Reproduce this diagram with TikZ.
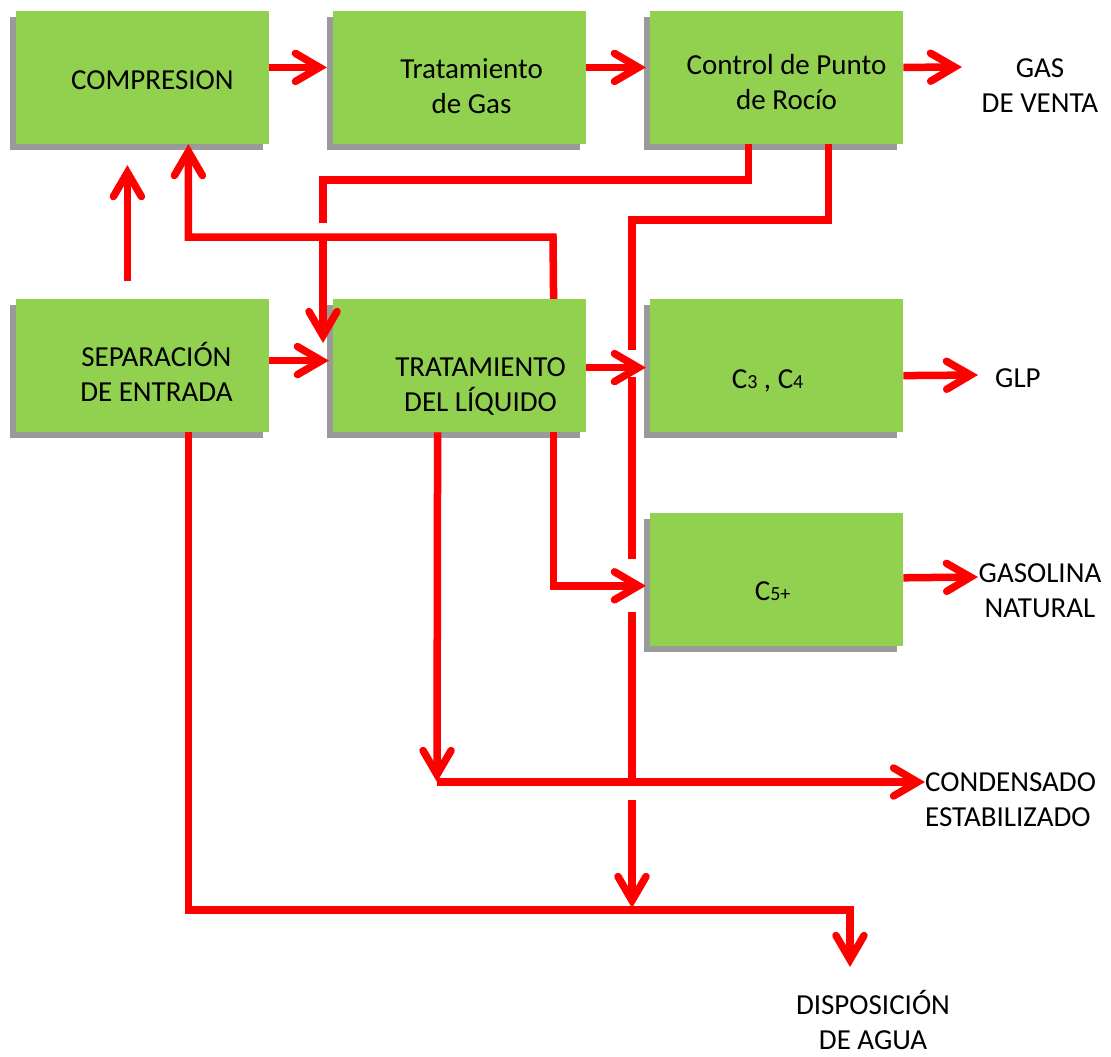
\documentclass[tikz,border=0pt]{standalone}
\usepackage{fontspec}
\setmainfont{Carlito}
\usetikzlibrary{matrix,shadows,arrows.meta}

\definecolor{leaf}{HTML}{92D050}
\definecolor{shade}{HTML}{9A9A9A}
\newcommand{\lowidx}[1]{{\fontsize{20}{20}\selectfont #1}}

\tikzset{
  box/.style={fill=leaf, minimum width=253pt, minimum height=133pt, inner sep=0pt,
    general shadow={fill=shade, shadow xshift=-6pt, shadow yshift=-6pt}},
  boxtext/.style={inner sep=0pt, align=center, font=\fontsize{29}{35}\selectfont},
  tag/.style={inner sep=0pt, align=center, font=\fontsize{29}{35}\selectfont},
  pipe/.style={draw=red, line width=7.5pt},
  flow/.style={pipe, -{Straight Barb[length=24pt,width=28pt,line cap=round,line join=miter]}}
}

\begin{document}
\begin{tikzpicture}[x=1pt,y=-1pt]
  \useasboundingbox (0,0) rectangle (1111,1057);
  \matrix (m) [column sep=64pt, row sep=155pt, inner sep=0pt, anchor=north west] at (15.5,10.5)
  {
    \node[box, label={[boxtext, shift={(10,3)}]center:COMPRESION}] (comp) {}; &
    \node[box, label={[boxtext, shift={(12,9)}]center:Tratamiento\\de Gas}] (tgas) {}; &
    \node[box, label={[boxtext, shift={(10,5)}]center:Control de Punto\\de Rocío}] (rocio) {}; \\
    \node[box, label={[boxtext, shift={(14,6)}]center:SEPARACIÓN\\DE ENTRADA}] (sep) {}; &
    \node[box, label={[boxtext, shift={(21,21)}]center:TRATAMIENTO\\DEL LÍQUIDO}] (tliq) {}; &
    \node[box, label={[boxtext, shift={(-9,15)}]center:C\lowidx{3} , C\lowidx{4}}] (c34) {}; \\[-74pt]
    & & \node[box, label={[boxtext, shift={(-4,11)}]center:C\lowidx{5+}}] (c5) {}; \\
  };

  \node[tag, anchor=north] (gas) at (1040,58) {GAS\\DE VENTA};
  \node[tag, anchor=west] (glp) at (995,378) {GLP};
  \node[tag, anchor=north] (gasolina) at (1040,563) {GASOLINA\\NATURAL};
  \node[tag, anchor=north west, align=left] (cond) at (925,772) {CONDENSADO\\ESTABILIZADO};
  \node[tag, anchor=north] (agua) at (873,990) {DISPOSICIÓN\\DE AGUA};

  \coordinate (gasin) at (962,67);
  \coordinate (glpin) at (978,375);
  \coordinate (gasoin) at (978,577);
  \coordinate (condjoin) at (437,782);
  \coordinate (condin) at (925,782);
  \coordinate (aguain) at (850,967);
  \coordinate (retbend) at (553,237);
  \coordinate (dewbend) at (323,180);
  \coordinate (dewcut1) at (323,223);
  \coordinate (dewcut2) at (323,240);
  \coordinate (dewtip) at (323,343);
  \coordinate (drainbend) at (632,220);
  \coordinate (cut1) at (632,350);
  \coordinate (cut2) at (632,377);
  \coordinate (cut3) at (632,559);
  \coordinate (cut4) at (632,612);
  \coordinate (cut5) at (632,782);
  \coordinate (cut6) at (632,800);
  \coordinate (watertip) at (632,908);
  \coordinate (waterbend) at (850,910);

  \path
    ([yshift=10pt]comp.east)  edge[flow, shorten >=6pt] ([yshift=10pt]tgas.west)
    ([yshift=10pt]tgas.east)  edge[flow, shorten >=4pt] ([yshift=10pt]rocio.west)
    ([yshift=10pt]rocio.east) edge[flow] (gasin)
    ([xshift=-15pt]sep.north) edge[flow, shorten <=18pt, shorten >=21pt] ([xshift=-15pt]comp.south)
    ([yshift=5pt]sep.east)    edge[flow, shorten >=4pt] ([yshift=5pt]tliq.west)
    ([yshift=-2pt]tliq.east)  edge[flow, shorten >=4pt] ([yshift=-2pt]c34.west)
    ([yshift=-10pt]c34.east)  edge[flow] (glpin)
    ([yshift=2pt]c5.east)     edge[flow] (gasoin)
    ([xshift=-22pt]tliq.south) edge[flow] (condjoin)
    (condjoin) edge[flow] (condin);

  \draw[flow] ([xshift=94pt]tliq.north) -- (retbend) -| ([xshift=46pt]comp.south);
  \draw[pipe] ([xshift=-28pt]rocio.south) |- (dewbend) -- (dewcut1);
  \draw[flow] (dewcut2) -- (dewtip);
  \draw[pipe] ([xshift=52pt]rocio.south) |- (drainbend) -- (cut1);
  \draw[pipe] (cut2) -- (cut3);
  \draw[pipe] (cut4) -- (cut5);
  \draw[flow] (cut6) -- (watertip);
  \draw[flow, shorten >=4pt] ([xshift=94pt]tliq.south) |- ([yshift=-6pt]c5.west);
  \draw[flow] ([xshift=46pt]sep.south) |- (waterbend) -- (aguain);
\end{tikzpicture}
\end{document}
